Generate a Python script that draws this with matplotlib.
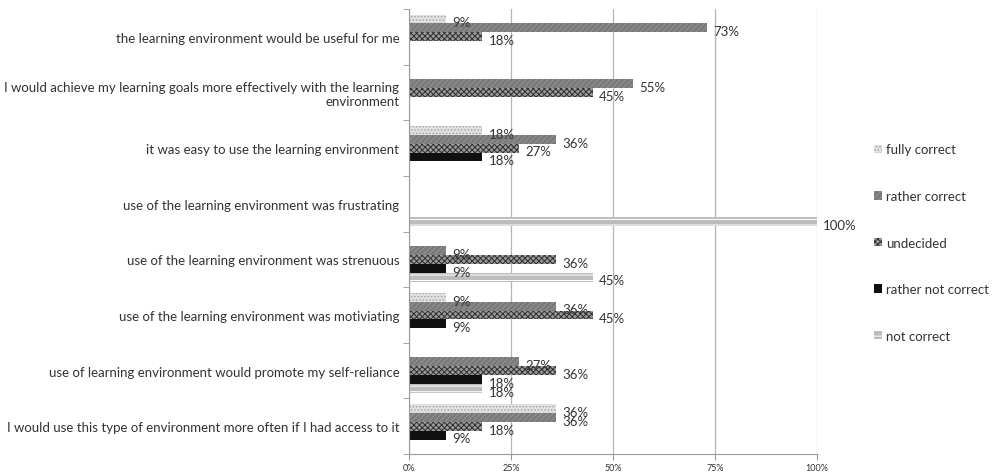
import numpy as np
import matplotlib
matplotlib.use("Agg")
import matplotlib.pyplot as plt
from matplotlib.patches import Patch
from matplotlib.ticker import FixedLocator

plt.rcParams['font.family'] = ['Lato', 'DejaVu Sans']
plt.rcParams['hatch.linewidth'] = 0.7

statements = [
    "the learning environment would be useful for me",
    "I would achieve my learning goals more effectively with the learning\nenvironment",
    "it was easy to use the learning environment",
    "use of the learning environment was frustrating",
    "use of the learning environment was strenuous",
    "use of the learning environment was motiviating",
    "use of learning environment would promote my self-reliance",
    "I would use this type of environment more often if I had access to it",
]

answers = ["fully correct", "rather correct", "undecided", "rather not correct", "not correct"]

# percent per statement (top to bottom)
fully_correct      = [9, 0, 18, 0, 0, 9, 0, 36]
rather_correct     = [73, 55, 36, 0, 9, 36, 27, 36]
undecided          = [18, 45, 27, 0, 36, 45, 36, 18]
rather_not_correct = [0, 0, 18, 0, 9, 9, 18, 9]
not_correct        = [0, 0, 0, 100, 45, 0, 18, 0]

series = [fully_correct, rather_correct, undecided, rather_not_correct, not_correct]

styles = [
    dict(facecolor='#e2e2e2', edgecolor='#a4a4a4', hatch='.....'),
    dict(facecolor='#7a7a7a', edgecolor='#949494', hatch='//////'),
    dict(facecolor='#9a9a9a', edgecolor='#2e2e2e', hatch='xxxxxx'),
    dict(facecolor='#101010', edgecolor='#2a2a2a', hatch=None),
    dict(facecolor='#bdbdbd', edgecolor='#ffffff', hatch='---'),
]

fig = plt.figure(figsize=(10, 4.77), dpi=100)
ax = fig.add_axes([0.409, 0.046, 0.408, 0.933])

y = np.arange(len(statements))
h = 0.16
txt_col = '#333333'

for j, (vals, st) in enumerate(zip(series, styles)):
    pos = y + (j - 2) * h
    ax.barh(pos, vals, height=h, linewidth=0, **st)
    for p, v in zip(pos, vals):
        if v > 0:
            ax.text(v + 1.5, p + 0.06, f"{v}%", va='center', ha='left',
                    fontsize=9.5, color=txt_col)

ax.set_xlim(0, 100)
ax.set_ylim(len(statements) - 0.5, -0.5)
ax.set_xticks([0, 25, 50, 75, 100])
ax.set_xticklabels(["0%", "25%", "50%", "75%", "100%"], fontsize=6.5, color=txt_col)
ax.xaxis.grid(True, color='#b5b5b5', linewidth=0.9)
ax.set_axisbelow(True)

ax.set_yticks(y)
ax.set_yticklabels(statements, fontsize=9.5, color=txt_col, ha='right', multialignment='right')
ax.tick_params(axis='y', length=0, pad=7)
ax.yaxis.set_minor_locator(FixedLocator(np.arange(len(statements) + 1) - 0.5))
ax.tick_params(axis='y', which='minor', length=4, color='#9a9a9a')
ax.tick_params(axis='x', length=4, color='#9a9a9a', pad=2.5)

for s in ['top', 'right']:
    ax.spines[s].set_visible(False)
ax.spines['left'].set_color('#9a9a9a')
ax.spines['bottom'].set_color('#9a9a9a')

handles = [Patch(**st, linewidth=0) for st in styles]
fig.legend(handles, answers, loc='upper left', bbox_to_anchor=(0.862, 0.722),
           frameon=False, fontsize=9.5, labelcolor=txt_col,
           handlelength=0.6, handleheight=0.6, handletextpad=0.3, labelspacing=2.62)

fig.savefig("out.png", dpi=100)
